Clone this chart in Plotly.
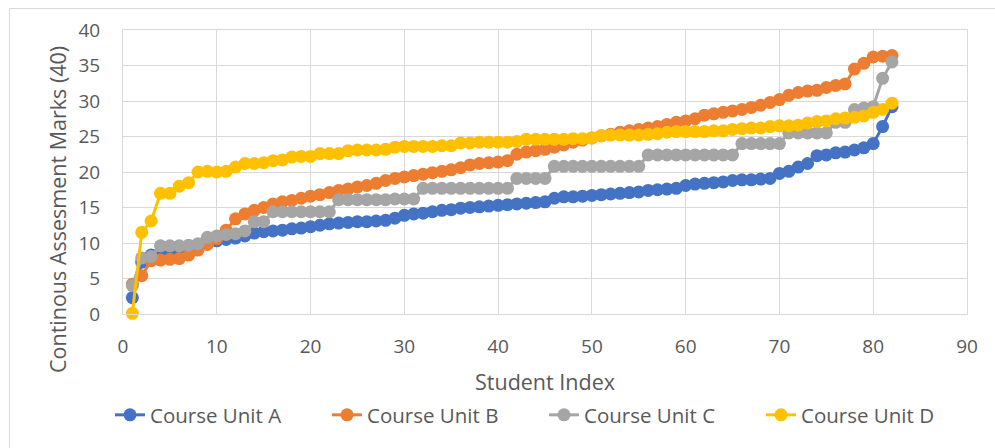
import plotly.graph_objects as go

# Sorted continuous-assessment marks (out of 40) for each course unit
student_index = list(range(1, 83))

unit_a = [2.3, 7.3, 8.3, 8.7, 8.8, 8.9, 9.2, 9.6, 10.0, 10.3,
          10.5, 10.7, 11.0, 11.4, 11.6, 11.7, 11.8, 12.0, 12.1, 12.3,
          12.5, 12.7, 12.8, 12.9, 13.0, 13.0, 13.1, 13.2, 13.5, 13.9,
          14.1, 14.2, 14.4, 14.6, 14.7, 14.9, 15.0, 15.1, 15.2, 15.3,
          15.4, 15.5, 15.6, 15.7, 15.8, 16.3, 16.5, 16.5, 16.6, 16.7,
          16.8, 16.9, 17.0, 17.1, 17.2, 17.4, 17.5, 17.6, 17.7, 18.1,
          18.3, 18.4, 18.5, 18.6, 18.8, 18.9, 18.9, 19.0, 19.1, 19.8,
          20.1, 20.7, 21.2, 22.3, 22.4, 22.7, 22.8, 23.1, 23.4, 24.0,
          26.4, 29.2]

unit_b = [4.2, 5.4, 7.5, 7.6, 7.7, 7.8, 8.3, 9.0, 9.8, 10.6,
          11.8, 13.4, 14.1, 14.6, 15.0, 15.5, 15.8, 16.0, 16.3, 16.6,
          16.8, 17.1, 17.4, 17.6, 17.9, 18.1, 18.4, 18.8, 19.1, 19.3,
          19.5, 19.7, 19.9, 20.1, 20.3, 20.6, 21.0, 21.2, 21.3, 21.4,
          21.6, 22.5, 22.8, 23.0, 23.2, 23.5, 23.8, 24.2, 24.5, 24.8,
          25.1, 25.3, 25.6, 25.8, 26.0, 26.2, 26.4, 26.7, 27.0, 27.2,
          27.5, 28.0, 28.2, 28.4, 28.6, 28.8, 29.1, 29.4, 29.8, 30.2,
          30.8, 31.2, 31.4, 31.5, 31.9, 32.2, 32.4, 34.5, 35.3, 36.2,
          36.3, 36.4]

unit_c = [4.0, 7.9, 8.1, 9.6, 9.6, 9.6, 9.7, 9.9, 10.8, 11.0,
          11.2, 11.3, 11.7, 13.0, 13.0, 14.4, 14.4, 14.4, 14.4, 14.4,
          14.4, 14.4, 16.1, 16.1, 16.1, 16.1, 16.1, 16.1, 16.2, 16.2,
          16.2, 17.7, 17.7, 17.7, 17.7, 17.7, 17.7, 17.7, 17.7, 17.7,
          17.7, 19.1, 19.1, 19.1, 19.1, 20.8, 20.8, 20.8, 20.8, 20.8,
          20.8, 20.8, 20.8, 20.8, 20.8, 22.4, 22.4, 22.4, 22.4, 22.4,
          22.4, 22.4, 22.4, 22.4, 22.4, 24.0, 24.0, 24.0, 24.0, 24.0,
          25.5, 25.5, 25.5, 25.5, 25.5, 27.0, 27.0, 28.8, 29.0, 29.2,
          33.2, 35.5]

unit_d = [0.1, 11.5, 13.1, 17.0, 17.0, 18.0, 18.5, 20.0, 20.1, 20.0,
          20.1, 20.7, 21.2, 21.2, 21.3, 21.6, 21.7, 22.1, 22.2, 22.2,
          22.6, 22.6, 22.6, 23.0, 23.1, 23.1, 23.1, 23.2, 23.5, 23.6,
          23.6, 23.6, 23.6, 23.7, 23.7, 24.1, 24.1, 24.2, 24.2, 24.2,
          24.2, 24.3, 24.6, 24.6, 24.6, 24.6, 24.6, 24.7, 24.7, 24.8,
          25.1, 25.2, 25.2, 25.2, 25.2, 25.3, 25.4, 25.6, 25.7, 25.7,
          25.7, 25.7, 25.8, 25.8, 26.0, 26.1, 26.2, 26.2, 26.4, 26.5,
          26.5, 26.6, 26.9, 27.1, 27.2, 27.5, 27.6, 27.7, 27.9, 28.4,
          28.8, 29.7]

series_names = ["Course Unit A", "Course Unit B", "Course Unit C", "Course Unit D"]
series_values = [unit_a, unit_b, unit_c, unit_d]
series_colors = ["#4472C4", "#ED7D31", "#A5A5A5", "#FFC000"]

FONT = "Open Sans"
TEXT_COLOR = "#595959"
GRID = "#D9D9D9"

fig = go.Figure()
for name, vals, col in zip(series_names, series_values, series_colors):
    fig.add_trace(go.Scatter(
        x=student_index, y=vals, name=name, mode="lines+markers",
        line=dict(color=col, width=3),
        marker=dict(color=col, size=13, symbol="circle"),
        cliponaxis=False,
    ))

W, H = 995, 448
L, R, T, B = 123, 967, 30, 314
pw, ph = R - L, B - T


def px_x(p):
    return (p - L) / pw


def px_y(p):
    return (B - p) / ph


fig.update_layout(
    width=W, height=H,
    margin=dict(l=L, r=W - R, t=T, b=H - B),
    paper_bgcolor="white", plot_bgcolor="white",
    font=dict(family=FONT, size=19, color=TEXT_COLOR),
    showlegend=True,
    legend=dict(
        orientation="h", x=px_x(110), y=px_y(415),
        xanchor="left", yanchor="middle",
        font=dict(family=FONT, size=20.5, color=TEXT_COLOR),
        entrywidth=172, entrywidthmode="pixels",
        bgcolor="rgba(0,0,0,0)",
    ),
    xaxis=dict(
        range=[0, 90], dtick=10, tick0=0,
        showgrid=True, gridcolor=GRID, gridwidth=1,
        showline=True, linecolor=GRID, linewidth=1, mirror=True,
        zeroline=False, ticks="", ticklabelstandoff=15,
        tickfont=dict(family=FONT, size=19, color=TEXT_COLOR),
    ),
    yaxis=dict(
        range=[0, 40], dtick=5, tick0=0,
        showgrid=True, gridcolor=GRID, gridwidth=1,
        showline=True, linecolor=GRID, linewidth=1, mirror=True,
        zeroline=False, ticks="", ticklabelstandoff=18,
        tickfont=dict(family=FONT, size=19, color=TEXT_COLOR),
    ),
    annotations=[
        dict(text="Continous Assesment Marks (40)", textangle=-90,
             xref="paper", yref="paper", x=px_x(57), y=px_y(210),
             xanchor="center", yanchor="middle", showarrow=False,
             font=dict(family=FONT, size=21.5, color=TEXT_COLOR)),
        dict(text="Student Index",
             xref="paper", yref="paper", x=px_x(545), y=px_y(381),
             xanchor="center", yanchor="middle", showarrow=False,
             font=dict(family=FONT, size=21.5, color=TEXT_COLOR)),
    ],
    shapes=[
        # outer chart frame (top and left edges)
        dict(type="line", xref="paper", yref="paper",
             x0=px_x(9.5), x1=px_x(1000), y0=px_y(8.5), y1=px_y(8.5),
             line=dict(color=GRID, width=1)),
        dict(type="line", xref="paper", yref="paper",
             x0=px_x(9.5), x1=px_x(9.5), y0=px_y(8.5), y1=px_y(460),
             line=dict(color=GRID, width=1)),
    ],
)

fig.write_html("out.html")
